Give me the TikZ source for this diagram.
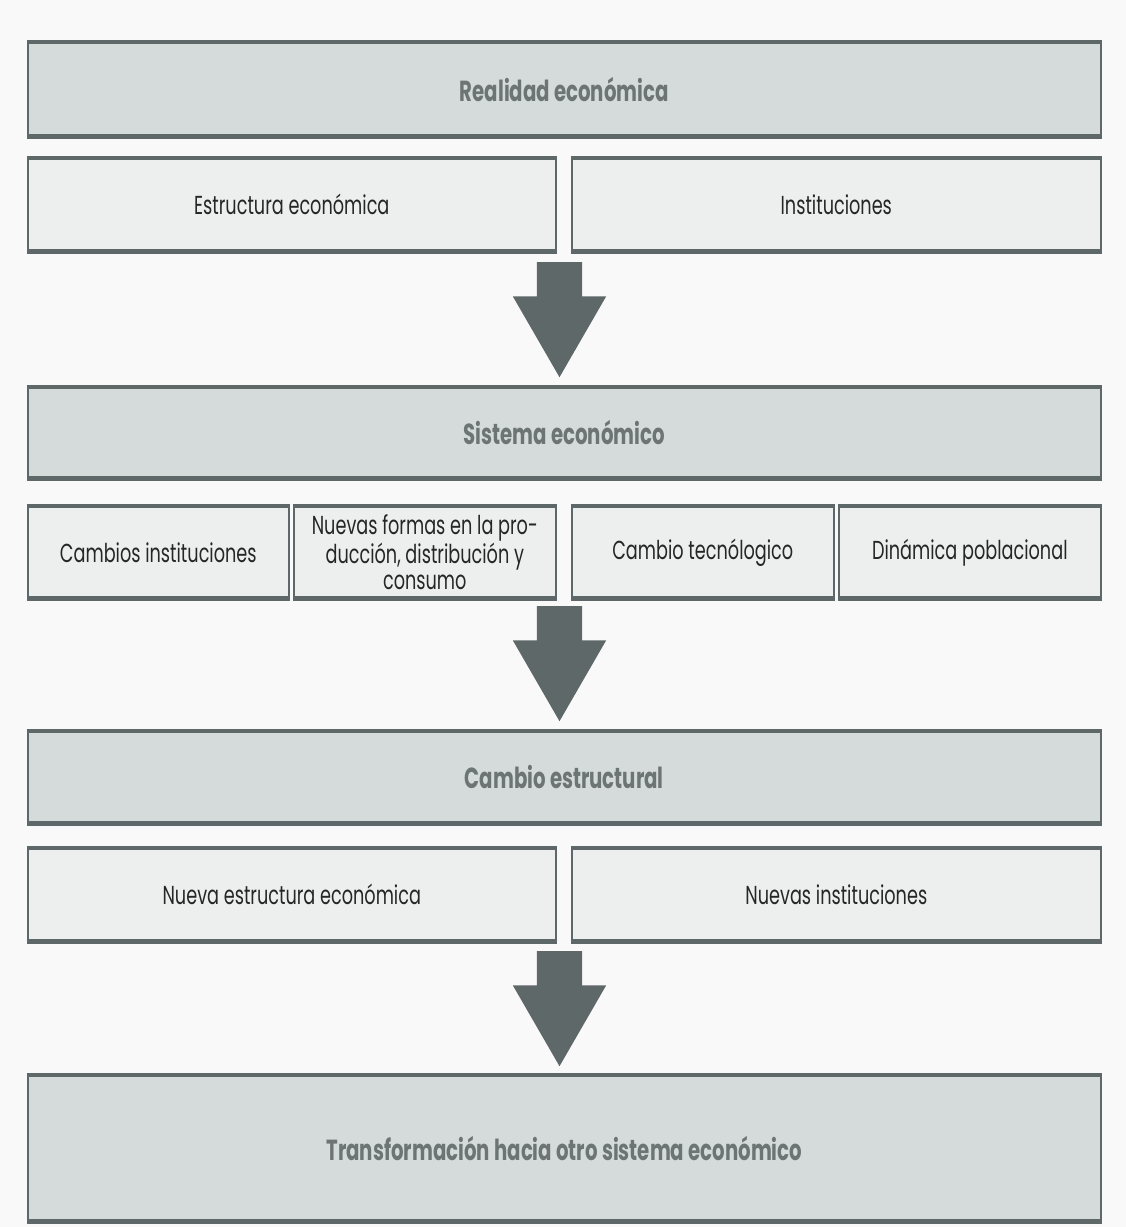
\documentclass[tikz,border=0pt]{standalone}
\usepackage{fontspec}
\setmainfont{Poppins}[FakeStretch=0.68]
\usetikzlibrary{shapes.arrows, positioning}
\definecolor{edgegray}{RGB}{94,104,104}
\definecolor{headfill}{RGB}{213,218,218}
\definecolor{cellfill}{RGB}{237,239,239}
\definecolor{headtext}{RGB}{108,116,116}
\definecolor{pagebg}{RGB}{249,249,249}
\begin{document}
\begin{tikzpicture}[
    x=1pt, y=-1pt,
    every node/.style={font=\fontsize{26}{26}\selectfont},
    bars/.style={append after command={\pgfextra{\let\boxnode\tikzlastnode}
        (\boxnode.north west) edge[draw=edgegray, line width=3.5pt] (\boxnode.north east)
        (\boxnode.south west) edge[draw=edgegray, line width=5pt] (\boxnode.south east)}},
    cell/.style={rectangle, draw=edgegray, line width=1.6pt, fill=cellfill, anchor=north west,
        align=center, inner sep=0pt, text=black!85, minimum height=92pt, bars},
    head/.style={cell, fill=headfill, text=headtext, font=\fontsize{29}{30}\selectfont\bfseries,
        minimum width=1073pt},
    bigarrow/.style={single arrow, fill=edgegray, rotate=-90, anchor=tail, minimum height=115pt,
        minimum width=93pt, single arrow head extend=24pt, single arrow tip angle=60,
        inner xsep=0pt, inner ysep=22.5pt}
]
\fill[pagebg] (0,0) rectangle (1126,1227);
% first block
\node[head, minimum height=93pt] (real) at (27,42) {Realidad económica};
\node[cell, minimum width=528pt] (estr) at (27,158) {Estructura económica};
\node[cell, minimum width=529pt] (inst) at (571,158) {Instituciones};
\node[bigarrow] (arr1) at (559.5,262) {};
% second block
\node[head, minimum height=90pt] (sist) at (27,387) {Sistema económico};
\node[cell, minimum width=261pt, minimum height=91pt] (camb) at (27,506) {Cambios instituciones};
\node[cell, minimum width=262pt, minimum height=91pt] (nuev) at (293,506) {Nuevas formas en la pro-\\ducción, distribución y\\consumo};
\node[cell, minimum width=262pt, minimum height=91pt] (tecn) at (571,506) {Cambio tecnólogico};
\node[cell, minimum width=262pt, minimum height=91pt] (dina) at (838,506) {Dinámica poblacional};
\node[bigarrow] (arr2) at (559.5,606) {};
% third block
\node[head, minimum height=91pt] (estc) at (27,731) {Cambio estructural};
\node[cell, minimum width=528pt] (nest) at (27,848) {Nueva estructura económica};
\node[cell, minimum width=529pt] (ninst) at (571,848) {Nuevas instituciones};
\node[bigarrow] (arr3) at (559.5,951) {};
% result
\node[head, minimum height=145pt] (trans) at (27,1075) {Transformación hacia otro sistema económico};
\end{tikzpicture}
\end{document}
